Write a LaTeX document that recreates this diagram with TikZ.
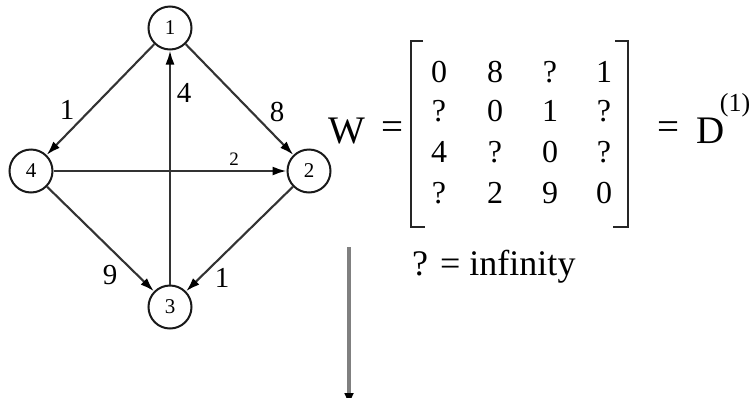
\documentclass[tikz,border=0pt]{standalone}
\usepackage{fontspec}
\setmainfont{Liberation Serif}
\usetikzlibrary{arrows.meta}
\newcommand{\fsz}[1]{\fontsize{#1}{#1}\selectfont}
\begin{document}
\begin{tikzpicture}[x=1pt,y=-1pt,
  vtx/.style={circle,draw=black!90,line width=2pt,minimum size=43pt,inner sep=0pt,font=\fsz{21}},
  edge/.style={draw=black!80,line width=2.1pt,-{Latex[length=14pt,width=9pt,color=black]}},
  elab/.style={inner sep=0pt,font=\fsz{29}},
  mtx/.style={inner sep=0pt,font=\fsz{32}},
  big/.style={inner sep=0pt,font=\fsz{39}},
  brk/.style={draw=black!85,line width=2.8pt}]
\useasboundingbox (0,0) rectangle (752,397);
% graph
\node[vtx] (n1) at (170,28) {1};
\node[vtx] (n2) at (309,171) {2};
\node[vtx] (n3) at (170,307) {3};
\node[vtx] (n4) at (31,171) {4};
\draw[edge] (n1) -- (n4);
\draw[edge] (n1) -- (n2);
\draw[edge] (n4) -- (n2);
\draw[edge] (n3) -- (n1);
\draw[edge] (n4) -- (n3);
\draw[edge] (n2) -- (n3);
\node[elab] (l14) at (67,110) {1};
\node[elab] (l12) at (277,112) {8};
\node[elab] (l31) at (184,93) {4};
\node[inner sep=0pt,font=\fsz{19}] (l42) at (234,159) {2};
\node[elab] (l43) at (110,275) {9};
\node[elab] (l23) at (222,278) {1};
% matrix
\node[big] (W) at (347,131) {W};
\node[big] (eq1) at (392,131) {=};
\draw[brk] (423,41) -- (411,41) -- (411,227) -- (425,227);
\draw[brk] (615,41) -- (628,41) -- (628,227) -- (613,227);
\node[mtx] (m11) at (439,72) {0};
\node[mtx] (m12) at (495,72) {8};
\node[mtx] (m13) at (550,72) {?};
\node[mtx] (m14) at (604,72) {1};
\node[mtx] (m21) at (439,111) {?};
\node[mtx] (m22) at (495,111) {0};
\node[mtx] (m23) at (550,111) {1};
\node[mtx] (m24) at (604,111) {?};
\node[mtx] (m31) at (439,152) {4};
\node[mtx] (m32) at (495,152) {?};
\node[mtx] (m33) at (550,152) {0};
\node[mtx] (m34) at (604,152) {?};
\node[mtx] (m41) at (439,193) {?};
\node[mtx] (m42) at (495,193) {2};
\node[mtx] (m43) at (550,193) {9};
\node[mtx] (m44) at (604,193) {0};
\node[big] (eq2) at (668,131) {=};
\node[big] (D) at (711,131) {D};
\node[inner sep=0pt,font=\fsz{26}] (sup) at (735,105) {(1)};
\node[inner sep=0pt,font=\fsz{36},anchor=west] (inf) at (412,267) {? = infinity};
% down arrow
\coordinate (vs) at (349,247);
\coordinate (ve) at (349,406);
\draw[draw=black!50,line width=3.2pt,-{Latex[length=13pt,width=10pt,color=black]}] (vs) -- (ve);
\end{tikzpicture}
\end{document}
